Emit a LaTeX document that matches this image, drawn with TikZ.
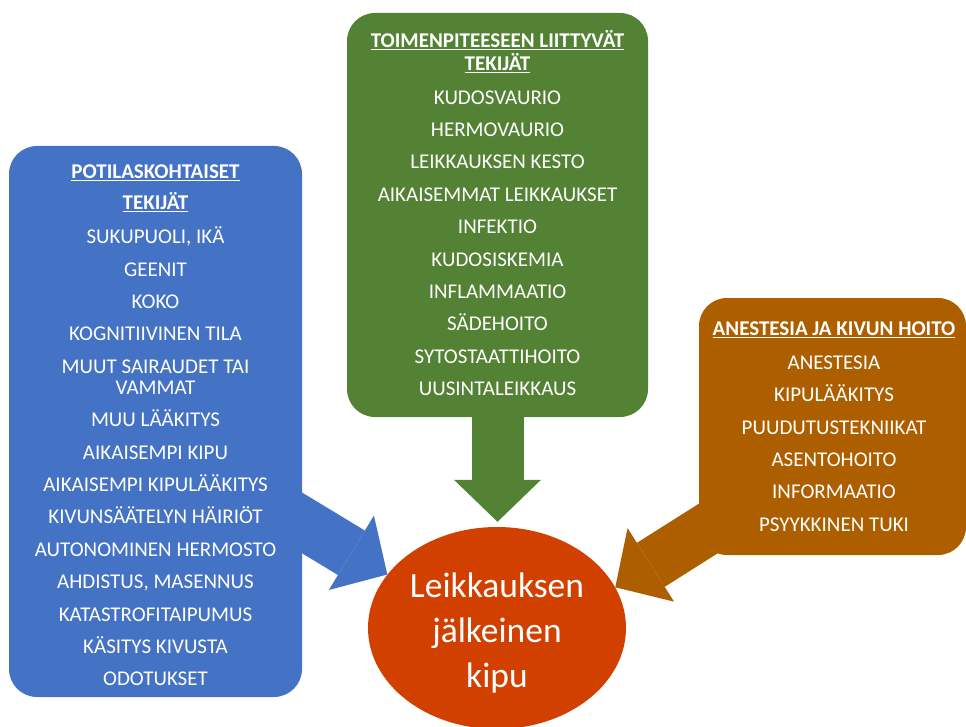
\documentclass[tikz,border=0pt]{standalone}
\usepackage{fontspec}
\setmainfont{Carlito}
\usetikzlibrary{shapes.geometric,arrows.meta,backgrounds}
\definecolor{potsin}{RGB}{68,114,196}
\definecolor{toimvihr}{RGB}{84,130,53}
\definecolor{aneruskea}{RGB}{173,95,0}
\definecolor{kipupun}{RGB}{210,64,0}
\newcommand{\valirivi}{\\[11.4pt]}
\newcommand{\otsikko}[1]{\underline{\textbf{#1}}}

\begin{document}
\begin{tikzpicture}[x=1pt,y=-1pt,font=\fontsize{21}{21}\selectfont,
  laatikko/.style={rounded corners=28pt,inner sep=0pt},
  teksti/.style={text=white,align=center,inner sep=0pt},
  nuoli/.style={line width=52pt,-{Triangle[width=87pt,length=42pt,line width=0pt]}}]
\useasboundingbox (0,0) rectangle (966,727);
\node[laatikko,fill=potsin,minimum width=293pt,minimum height=551pt] (potilas) at (155.5,421.5) {};
\node[teksti] (potilasteksti) at ([yshift=-4pt]potilas.center)
  {\otsikko{POTILASKOHTAISET}\\[10pt]\otsikko{TEKIJÄT}\\[13pt]SUKUPUOLI, IKÄ\valirivi GEENIT\valirivi KOKO\valirivi KOGNITIIVINEN TILA\valirivi MUUT SAIRAUDET TAI\\VAMMAT\valirivi MUU LÄÄKITYS\valirivi AIKAISEMPI KIPU\valirivi AIKAISEMPI KIPULÄÄKITYS\valirivi KIVUNSÄÄTELYN HÄIRIÖT\valirivi AUTONOMINEN HERMOSTO\valirivi AHDISTUS, MASENNUS\valirivi KATASTROFITAIPUMUS\valirivi KÄSITYS KIVUSTA\valirivi ODOTUKSET};
\node[laatikko,fill=toimvihr,minimum width=301pt,minimum height=404pt] (toimenpide) at (497.5,215) {};
\node[teksti] (toimenpideteksti) at ([yshift=2pt]toimenpide.center)
  {\otsikko{TOIMENPITEESEEN LIITTYVÄT}\\[2pt]\otsikko{TEKIJÄT}\\[13pt]KUDOSVAURIO\valirivi HERMOVAURIO\valirivi LEIKKAUKSEN KESTO\valirivi AIKAISEMMAT LEIKKAUKSET\valirivi INFEKTIO\valirivi KUDOSISKEMIA\valirivi INFLAMMAATIO\valirivi SÄDEHOITO\valirivi SYTOSTAATTIHOITO\valirivi UUSINTALEIKKAUS};
\node[laatikko,fill=aneruskea,minimum width=267pt,minimum height=257pt] (anestesia) at (832.5,426.5) {};
\node[teksti] (anestesiateksti) at ([xshift=1.5pt]anestesia.center)
  {\otsikko{ANESTESIA JA KIVUN HOITO}\\[13pt]ANESTESIA\valirivi KIPULÄÄKITYS\valirivi PUUDUTUSTEKNIIKAT\valirivi ASENTOHOITO\valirivi INFORMAATIO\valirivi PSYYKKINEN TUKI};
\node[ellipse,fill=kipupun,minimum width=258pt,minimum height=202pt,inner sep=0pt] (kipu) at (497,628) {};
\node[teksti,font=\fontsize{35.5}{45}\selectfont] (kiputeksti) at (497,633) {Leikkauksen\\jälkeinen\\kipu};
\begin{scope}[on background layer]
\draw[nuoli,potsin,shorten <=-30pt] ([yshift=-101.5pt]potilas.east) -- (kipu.154);
\draw[nuoli,toimvihr,shorten >=5pt] (toimenpide.south) -- (toimenpide.south |- kipu.north);
\draw[nuoli,aneruskea,shorten <=-30pt] ([yshift=-108pt]anestesia.west) -- (kipu.19);
\end{scope}
\end{tikzpicture}
\end{document}
